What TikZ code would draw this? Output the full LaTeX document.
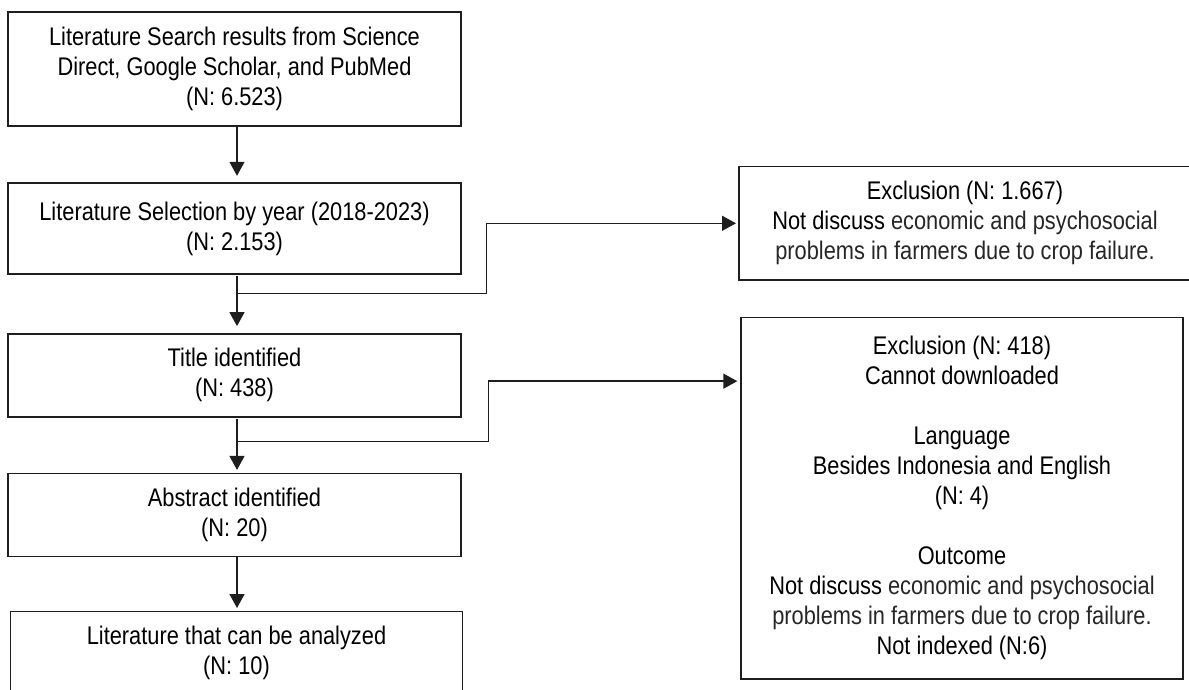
\documentclass[tikz,border=0pt]{standalone}
\usepackage{fontspec}
\setmainfont{Liberation Sans}[FakeStretch=0.855]
\usetikzlibrary{arrows.meta}
\definecolor{linec}{HTML}{1E1E1E}
\definecolor{softtx}{HTML}{262626}
\begin{document}
\begin{tikzpicture}[x=1pt,y=-1pt,
  box/.style={draw=linec, line width=1.4pt, inner sep=0pt, align=center,
    font=\fontsize{25.5}{30}\selectfont, text=black},
  txt/.style={inner sep=0pt, align=center, font=\fontsize{25.5}{30}\selectfont, text=black},
  conn/.style={draw=linec, line width=1.4pt},
  arr/.style={conn, -{Triangle[length=14pt,width=15pt]}}
]
\useasboundingbox (0,0) rectangle (1189,690);
\clip (0,0) rectangle (1189,690);

% left column
\node[box, minimum width=453pt, minimum height=114pt] (search) at (234.5,69)
  {Literature Search results from Science\\Direct, Google Scholar, and PubMed\\(N: 6.523)};
\node[box, minimum width=453pt, minimum height=91pt] (select) at (234.5,228.5)
  {Literature Selection by year (2018-2023)\\(N: 2.153)};
\node[box, minimum width=453pt, minimum height=83pt] (title) at (234.5,375.3)
  {Title identified\\(N: 438)};
\node[box, minimum width=453pt, minimum height=83pt] (abstract) at (234.5,514.7)
  {Abstract identified\\(N: 20)};
\node[box, minimum width=452.4pt, minimum height=120pt, anchor=north] (final) at (236.5,610.7) {};
\node[txt] (finaltext) at (236.5,653) {Literature that can be analyzed\\(N: 10)};

% right column
\node[box, minimum width=452pt, minimum height=113.3pt] (excl1) at (965,223.3)
  {Exclusion (N: 1.667)\\Not discuss {\color{softtx}economic and psychosocial}\\{\color{softtx}problems in farmers due to crop failure.}};
\node[box, minimum width=442pt, minimum height=361.7pt] (excl2) at (962,498.3)
  {Exclusion (N: 418)\\Cannot downloaded\\[30pt]Language\\Besides Indonesia and English\\(N: 4)\\[30pt]Outcome\\Not discuss {\color{softtx}economic and psychosocial}\\{\color{softtx}problems in farmers due to crop failure.}\\Not indexed (N:6)};

% connectors
\coordinate (sx) at (237,0);
\coordinate (b1) at (237,293.5);
\coordinate (b2) at (237,441.7);
\draw[arr, shorten >=6.5pt] (search.south -| sx) -- (select.north -| sx);
\draw[arr, shorten <=1.5pt, shorten >=7pt] (select.south -| sx) -- (title.north -| sx);
\draw[arr, shorten >=2.3pt] (b1) -- ++(249.7,0) |- (excl1.west);
\draw[arr, shorten <=1.5pt, shorten >=2.6pt] (title.south -| sx) -- (abstract.north -| sx);
\draw[arr, shorten >=3pt] (b2) -- ++(251.7,0) |- ([yshift=-64.4pt]excl2.north west);
\draw[arr, shorten >=2.7pt] (abstract.south -| sx) -- (final.north -| sx);
\end{tikzpicture}
\end{document}
